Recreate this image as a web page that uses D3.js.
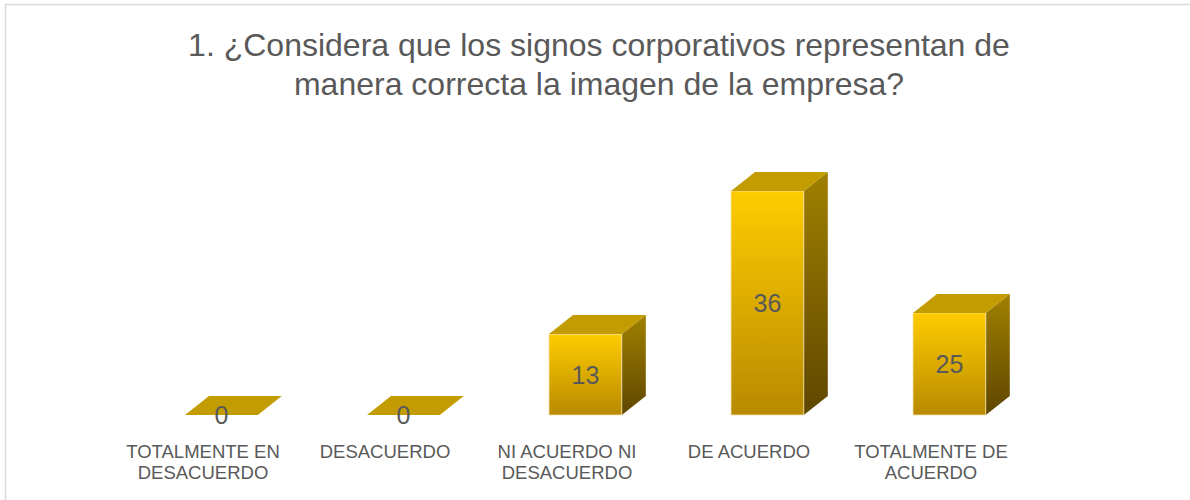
<!DOCTYPE html>
<html>
<head>
<meta charset="utf-8">
<script src="https://cdn.jsdelivr.net/npm/d3@7"></script>
<style>
body { margin:0; background:#fff; }
svg text { font-family: "Liberation Sans", Arial, sans-serif; fill:#595959; }
</style>
</head>
<body>
<svg id="chart" width="1190" height="500"></svg>
<script>
// data
var titleLines = ["1. ¿Considera que los signos corporativos representan de", "manera correcta la imagen de la empresa?"]
var categories = ["TOTALMENTE EN\nDESACUERDO", "DESACUERDO", "NI ACUERDO NI\nDESACUERDO", "DE ACUERDO", "TOTALMENTE DE\nACUERDO"]
var labels = [0, 0, 13, 36, 25]
// heights as drawn (last bar is drawn shorter than its label)
var barValues = [0, 0, 13, 36, 16.4]

var svg = d3.select("#chart")

// chart border
svg.append("rect").attr("x", 5.5).attr("y", 4.5).attr("width", 1200).attr("height", 520)
    .attr("fill", "none").attr("stroke", "#d9d9d9").attr("stroke-width", 1.5)

svg.selectAll("text.title").data(titleLines).enter().append("text")
    .attr("class", "title")
    .attr("x", 599).attr("y", function(d, i){ return 56 + i * 39 })
    .attr("text-anchor", "middle").style("font-size", "32px")
    .text(function(d){ return d })

var x = d3.scaleBand().domain(categories).range([112, 1022])
var y = d3.scaleLinear().domain([0, 36]).range([415, 191])
var dx = 24, dy = -19
var fw = x.bandwidth() * 0.4

var defs = svg.append("defs")
var gf = defs.append("linearGradient").attr("id", "gFront").attr("x1", 0).attr("y1", 0).attr("x2", 0).attr("y2", 1)
gf.append("stop").attr("offset", "0%").attr("stop-color", "#ffcc00")
gf.append("stop").attr("offset", "100%").attr("stop-color", "#b88a00")
var gs = defs.append("linearGradient").attr("id", "gSide").attr("x1", 0).attr("y1", 0).attr("x2", 0).attr("y2", 1)
gs.append("stop").attr("offset", "0%").attr("stop-color", "#a08000")
gs.append("stop").attr("offset", "100%").attr("stop-color", "#5e4600")

var bars = svg.selectAll("g.bar").data(categories).enter().append("g").attr("class", "bar")

function left(d){ return x(d) + x.bandwidth() / 2 - 18 }

bars.each(function(d, i)
{
    var g = d3.select(this)
    var x0 = left(d), x1 = x0 + fw
    var yt = y(barValues[i]), yb = y(0)
    if (barValues[i] > 0)
    {
        g.append("path")
            .attr("d", "M" + x1 + "," + yt + "L" + (x1 + dx) + "," + (yt + dy) + "L" + (x1 + dx) + "," + (yb + dy) + "L" + x1 + "," + yb + "Z")
            .attr("fill", "url(#gSide)")
        g.append("rect").attr("x", x0).attr("y", yt).attr("width", fw).attr("height", yb - yt)
            .attr("fill", "url(#gFront)").attr("stroke", "#f3e3b0").attr("stroke-width", 0.8)
    }
    g.append("path")
        .attr("d", "M" + x0 + "," + yt + "L" + (x0 + dx) + "," + (yt + dy) + "L" + (x1 + dx) + "," + (yt + dy) + "L" + x1 + "," + yt + "Z")
        .attr("fill", "#c29c00")
    g.append("text")
        .attr("x", x0 + fw / 2).attr("y", (yt + yb) / 2 + 9)
        .attr("text-anchor", "middle").style("font-size", "25px")
        .text(labels[i])
})

var axis = svg.append("g").attr("transform", "translate(0,440)")
    .call(d3.axisBottom(x).tickSize(0).tickFormat(""))
axis.select(".domain").remove()
axis.selectAll(".tick").each(function(d)
{
    var t = d3.select(this).append("text").attr("text-anchor", "middle").style("font-size", "18.5px")
    d.split("\n").forEach(function(s, j)
    {
        t.append("tspan").attr("x", 0).attr("y", 18 + j * 21).text(s)
    })
})
</script>
</body>
</html>
